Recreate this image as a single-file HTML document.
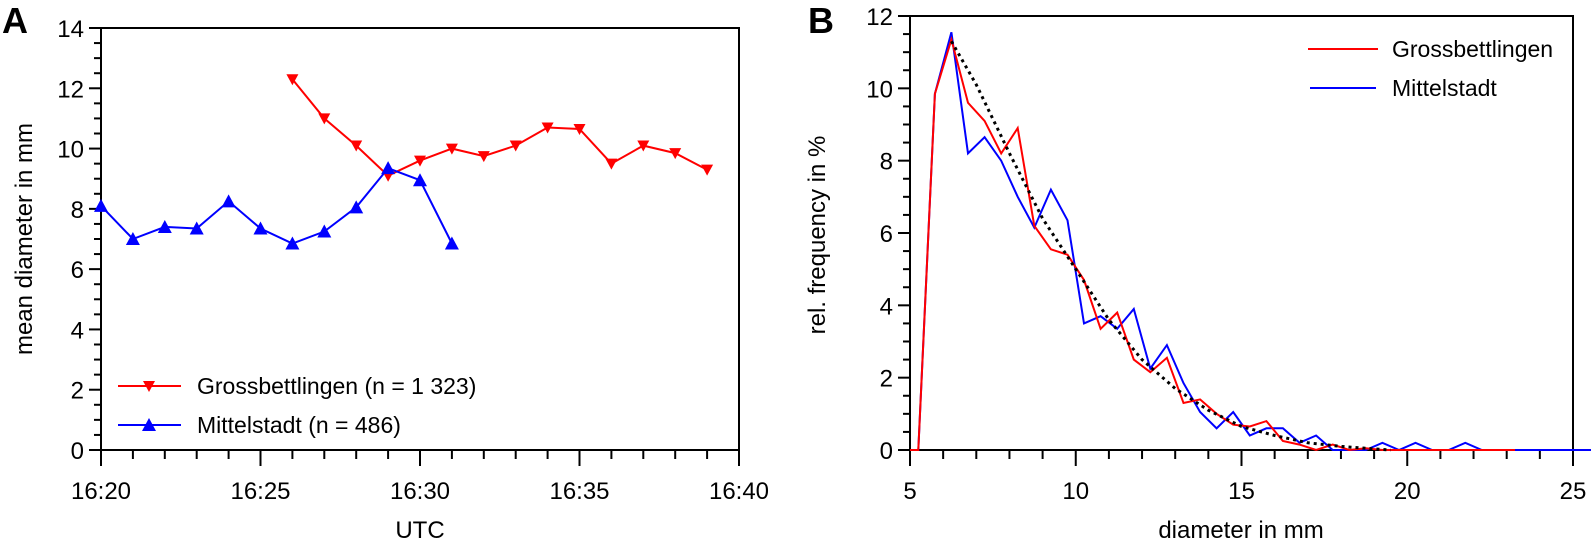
<!DOCTYPE html>
<html><head><meta charset="utf-8"><style>
html,body{margin:0;padding:0;background:#fff;}
svg{display:block;font-family:"Liberation Sans",Arial,sans-serif;}
</style></head><body>
<svg id="s" width="1591" height="554" viewBox="0 0 1591 554" xmlns="http://www.w3.org/2000/svg">
<text x="2" y="33" font-size="36" font-weight="bold">A</text>
<text x="808" y="33" font-size="36" font-weight="bold">B</text>
<g id="g"></g>
</svg>
<script>
var g=document.getElementById('g'),h='';
function L(x1,y1,x2,y2,c,w,extra){h+='<line x1="'+x1+'" y1="'+y1+'" x2="'+x2+'" y2="'+y2+'" stroke="'+(c||'#000')+'" stroke-width="'+(w||2)+'" '+(extra||'')+'/>';}
function T(x,y,s,a,fs,rot){h+='<text x="'+x+'" y="'+y+'" font-size="'+(fs||24)+'" text-anchor="'+(a||'middle')+'"'+(rot?' transform="rotate(-90 '+x+' '+y+')"':'')+'>'+s+'</text>';}
function P(pts,c,w,extra){h+='<polyline fill="none" stroke="'+c+'" stroke-width="'+(w||2)+'" points="'+pts.map(function(p){return p[0].toFixed(1)+','+p[1].toFixed(1)}).join(' ')+'" '+(extra||'')+'/>';}
// Panel A
var ax0=101,ax1=739,ay0=450,ay1=28;
function AX(m){return ax0+(ax1-ax0)*m/20;} function AY(v){return ay0-(ay0-ay1)*v/14;}
h+='<rect x="'+ax0+'" y="'+ay1+'" width="'+(ax1-ax0)+'" height="'+(ay0-ay1)+'" fill="none" stroke="#000" stroke-width="2"/>';
for(var v=0;v<=14;v+=0.5){var maj=v%2==0;L(ax0,AY(v),ax0-(maj?12:7),AY(v));if(maj)T(ax0-17,AY(v)+9,v,'end');}
for(var m=0;m<=20;m++){var maj=m%5==0;L(AX(m),ay0,AX(m),ay0+(maj?16:9));if(maj)T(AX(m),ay0+49,'16:'+(20+m));}
T(420,538,'UTC');T(32,239,'mean diameter in mm','middle',24,true);
var red=[12.3,11.0,10.1,9.1,9.6,10.0,9.75,10.1,10.7,10.65,9.5,10.1,9.85,9.3];
var blue=[8.1,7.0,7.4,7.35,8.25,7.35,6.85,7.25,8.05,9.35,8.95,6.85];
var rp=red.map(function(v,i){return [AX(6+i),AY(v)]}),bp=blue.map(function(v,i){return [AX(i),AY(v)]});
P(rp,'#f00',2);P(bp,'#00f',2);
function dn(x,y,c){h+='<polygon points="'+(x-6)+','+(y-5)+' '+(x+6)+','+(y-5)+' '+x+','+(y+6)+'" fill="'+c+'"/>';}
function up(x,y,c){h+='<polygon points="'+(x-7)+','+(y+6)+' '+(x+7)+','+(y+6)+' '+x+','+(y-7)+'" fill="'+c+'"/>';}
rp.forEach(function(p){dn(p[0],p[1],'#f00')});bp.forEach(function(p){up(p[0],p[1],'#00f')});
L(118,386,181,386,'#f00',2);dn(149,386,'#f00');T(197,394,'Grossbettlingen (n = 1 323)','start',23);
L(118,425,181,425,'#00f',2);up(149,425,'#00f');T(197,433,'Mittelstadt (n = 486)','start',23);
// Panel B
var bx0=910,bx1=1573,by0=450,by1=16;
function BX(d){return bx0+(bx1-bx0)*(d-5)/20;} function BY(v){return by0-(by0-by1)*v/12;}
h+='<rect x="'+bx0+'" y="'+by1+'" width="'+(bx1-bx0)+'" height="'+(by0-by1)+'" fill="none" stroke="#000" stroke-width="2"/>';
for(var v=0;v<=12;v+=0.5){var maj=v%2==0;L(bx0,BY(v),bx0-(maj?12:7),BY(v));if(maj)T(bx0-17,BY(v)+9,v,'end');}
for(var d=5;d<=25;d++){var maj=d%5==0;L(BX(d),by0,BX(d),by0+(maj?16:9));if(maj)T(BX(d),by0+49,d);}
T(1241,538,'diameter in mm');T(825,235,'rel. frequency in %','middle',24,true);
var rv=[0,9.85,11.35,9.6,9.1,8.2,8.9,6.2,5.55,5.4,4.7,3.35,3.8,2.5,2.15,2.55,1.3,1.4,1.0,0.7,0.65,0.8,0.25,0.15,0,0.15,0,0.05,0,0,0,0,0,0,0,0,0];
var bv=[0,9.85,11.55,8.2,8.65,8.0,7.0,6.15,7.2,6.35,3.5,3.7,3.35,3.9,2.25,2.9,1.85,1.05,0.6,1.05,0.4,0.6,0.6,0.2,0.4,0,0,0,0.2,0,0.2,0,0,0.2,0,0,0,0,0,0,0,0];
var bpts=[[BX(5),BY(0)]];bv.forEach(function(v,i){bpts.push([BX(5.25+0.5*i),BY(v)])});bpts.push([BX(25),BY(0)]);
var rpts=[[BX(5),BY(0)]];rv.forEach(function(v,i){rpts.push([BX(5.25+0.5*i),BY(v)])});
P(bpts,'#00f',2);P(rpts,'#f00',2);
var fit=[[6.25,11.3],[7,10.1],[8,8.2],[9,6.4],[10,5.0],[11,3.6],[12,2.5],[13,1.7],[14,1.1],[15,0.65],[16,0.4],[17,0.2],[18,0.1],[19,0.03],[19.5,0]];
P(fit.map(function(p){return [BX(p[0]),BY(p[1])]}),'#000',3,'stroke-dasharray="3,4"');
L(1308,49,1378,49,'#f00',2);T(1392,57,'Grossbettlingen','start',23);
L(1310,88,1376,88,'#00f',2);T(1392,96,'Mittelstadt','start',23);
g.innerHTML=h;
</script>
</body></html>
